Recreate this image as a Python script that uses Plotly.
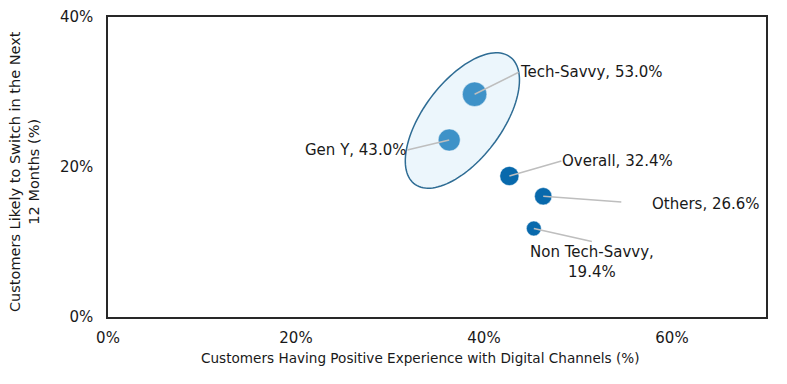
import numpy as np
import plotly.graph_objects as go

# ---- data ----
segments = ["Tech-Savvy", "Gen Y", "Overall", "Others", "Non Tech-Savvy"]
positive_experience = [39.0, 36.3, 42.7, 46.3, 45.3]   # x, %
likely_to_switch = [29.7, 23.6, 18.8, 16.1, 11.8]      # y, %
bubble_value = [53.0, 43.0, 32.4, 26.6, 19.4]          # label value, %
x_ticks = [0, 20, 40, 60]
y_ticks = [0, 20, 40]

LIGHT = "rgb(62,146,200)"
DARK = "rgb(8,105,172)"
colors = [LIGHT, LIGHT, DARK, DARK, DARK]

FONT = "DejaVu Sans"
TXT = "rgb(25,25,25)"
W, H = 787, 384
L, R, T, B = 108, 21, 17, 67
XMAX, YMAX = 70, 40
pw, ph = W - L - R, H - T - B
pxx = pw / XMAX  # px per x unit
pxy = ph / YMAX  # px per y unit

fig = go.Figure()

# highlight ellipse around Gen Y / Tech-Savvy (built in pixel space, mapped to data)
ecx, ecy = 37.7, 26.2
a, b, th = 79.5, 39.0, np.deg2rad(53.0)
t = np.linspace(0, 2 * np.pi, 120)
dx = a * np.cos(th) * np.cos(t) - b * np.sin(th) * np.sin(t)
dy = a * np.sin(th) * np.cos(t) + b * np.cos(th) * np.sin(t)
ex = ecx + dx / pxx
ey = ecy + dy / pxy
path = "M " + " L ".join(f"{u:.4f},{v:.4f}" for u, v in zip(ex, ey)) + " Z"
fig.add_shape(type="path", path=path, xref="x", yref="y",
              fillcolor="rgb(236,246,252)", line=dict(color="rgb(46,108,148)", width=1.5),
              layer="below")

max_diam = 24.5
sizeref = 2.0 * max(bubble_value) / max_diam ** 2
fig.add_trace(go.Scatter(
    x=positive_experience, y=likely_to_switch, mode="markers",
    marker=dict(size=bubble_value, sizemode="area", sizeref=sizeref,
                color=colors, opacity=1,
                line=dict(color="rgba(255,255,255,0.6)", width=0.8)),
    hoverinfo="skip", showlegend=False, cliponaxis=False,
))

# labels with leader lines
label_cfg = {
    "Tech-Savvy": dict(ax=44, ay=-22, xanchor="left", yanchor="middle", br=False, sso=0),
    "Gen Y": dict(ax=-42, ay=10, xanchor="right", yanchor="middle", br=False, sso=0),
    "Overall": dict(ax=52, ay=-15, xanchor="left", yanchor="middle", br=False, sso=0),
    "Others": dict(ax=108, ay=8, xanchor="left", yanchor="middle", br=False, sso=30),
    "Non Tech-Savvy": dict(ax=58, ay=13, xanchor="center", yanchor="top", br=True, sso=0),
}
for name, xv, yv, val in zip(segments, positive_experience, likely_to_switch, bubble_value):
    c = label_cfg[name]
    txt = f"{name},<br>{val:.1f}%" if c["br"] else f"{name}, {val:.1f}%"
    fig.add_annotation(
        x=xv, y=yv, xref="x", yref="y", text=txt, showarrow=True,
        arrowhead=0, arrowwidth=1.5, arrowcolor="rgb(190,190,190)",
        ax=c["ax"], ay=c["ay"], axref="pixel", ayref="pixel",
        xanchor=c["xanchor"], yanchor=c["yanchor"], align="center",
        startstandoff=c["sso"], standoff=0, borderpad=0,
        font=dict(family=FONT, size=15, color=TXT),
    )

# y axis title (two lines)
fig.add_annotation(
    text="Customers Likely to Switch in the Next<br>12 Months (%)",
    xref="paper", yref="paper", x=(25 - L) / pw, y=(H - B - 172) / ph,
    textangle=-90, showarrow=False, xanchor="center", yanchor="middle",
    font=dict(family=FONT, size=14.5, color=TXT),
)
# x axis title
fig.add_annotation(
    text="Customers Having Positive Experience with Digital Channels (%)",
    xref="paper", yref="paper", x=(420 - L) / pw, y=-(358 - (H - B)) / ph,
    showarrow=False, xanchor="center", yanchor="middle",
    font=dict(family=FONT, size=13.6, color=TXT),
)

fig.update_layout(
    width=W, height=H, margin=dict(l=L, r=R, t=T, b=B, autoexpand=False),
    paper_bgcolor="white", plot_bgcolor="white",
    font=dict(family=FONT, size=14, color=TXT),
    xaxis=dict(range=[0, XMAX], tickvals=x_ticks, ticktext=[f"{v}%" for v in x_ticks],
               showgrid=False, zeroline=False, showline=True, linecolor="rgb(40,40,40)",
               linewidth=1.5, mirror=True, ticks="", ticklabelstandoff=6, automargin=False,
               tickfont=dict(family=FONT, size=15, color=TXT)),
    yaxis=dict(range=[0, YMAX], tickvals=y_ticks, ticktext=[f"{v}%" for v in y_ticks],
               showgrid=False, zeroline=False, showline=True, linecolor="rgb(40,40,40)",
               linewidth=1.5, mirror=True, ticks="", ticklabelstandoff=10, automargin=False,
               tickfont=dict(family=FONT, size=15, color=TXT)),
)

fig.write_html("out.html", config={"displayModeBar": False},
               post_script="document.body.style.margin='0';document.body.style.overflow='hidden';")
